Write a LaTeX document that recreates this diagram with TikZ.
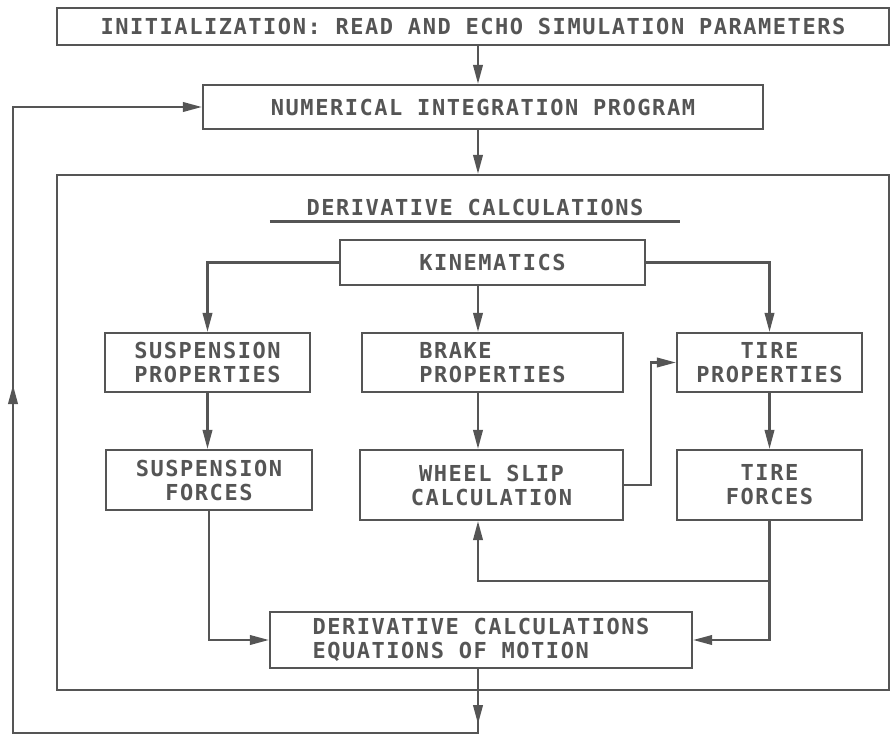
\documentclass[tikz,border=0pt]{standalone}
\usepackage{fontspec}
\newfontfamily\plotfont[LetterSpace=7]{DejaVu Sans Mono}
\usetikzlibrary{arrows.meta}
\definecolor{ink}{HTML}{555555}
\begin{document}
\begin{tikzpicture}[x=1pt,y=-1pt,
  plot/.style={text=ink, font=\plotfont\bfseries\fontsize{22}{24}\selectfont},
  box/.style={plot, draw=ink, line width=2.2pt, inner sep=0pt, align=center},
  wire/.style={draw=ink, line width=2.2pt},
  flow/.style={wire, -{Triangle[length=19pt,width=9.5pt]}}]
\useasboundingbox (0,0) rectangle (894,736);
\coordinate (mid) at (478,0);
\coordinate (back) at (13,733);
\node [box, minimum width=832, minimum height=37] (init) at (473,26.5) {INITIALIZATION: READ AND ECHO SIMULATION PARAMETERS};
\node [box, minimum width=560, minimum height=44] (nip) at (483,107) {NUMERICAL INTEGRATION PROGRAM};
\node [box, minimum width=832, minimum height=515] (calc) at (473,432.5) {};
\node [plot, minimum width=410, inner sep=0pt] (title) at (475,207) {DERIVATIVE CALCULATIONS};
\node [box, minimum width=305, minimum height=45] (kin) at (492.5,262.5) {KINEMATICS};
\node [box, align=left, minimum width=205, minimum height=59] (sp) at (207.5,362.5) {SUSPENSION\\PROPERTIES};
\node [box, minimum width=206, minimum height=60] (sf) at (209,480) {SUSPENSION\\FORCES};
\node [box, align=left, minimum width=261, minimum height=59] (bp) at (492.5,362.5) {BRAKE\\PROPERTIES};
\node [box, minimum width=263, minimum height=70] (ws) at (491.5,485) {WHEEL SLIP\\CALCULATION};
\node [box, minimum width=185, minimum height=59] (tp) at (769.5,362.5) {TIRE\\PROPERTIES};
\node [box, minimum width=185, minimum height=70] (tf) at (769.5,485) {TIRE\\FORCES};
\node [box, align=left, minimum width=422, minimum height=56] (eom) at (481,640) {DERIVATIVE CALCULATIONS\\EQUATIONS OF MOTION};
\draw [wire] ([yshift=-6pt]title.south west) -- ([yshift=-6pt]title.south east);
\draw [flow] (init.south -| mid) -- (nip.north -| mid);
\draw [flow] (nip.south -| mid) -- (calc.north -| mid);
\draw [flow] (kin.south -| mid) -- (bp.north -| mid);
\draw [flow] (kin.west) -| (sp.north);
\draw [flow] (kin.east) -| (tp.north);
\draw [flow] (sp.south) -- (sp.south |- sf.north);
\draw [flow] (bp.south -| mid) -- (ws.north -| mid);
\draw [flow] (tp.south) -- (tf.north);
\draw [flow] (ws.east) -- ++(27,0) |- (tp.west);
\draw [flow] (sf.south) |- (eom.west);
\draw [flow] (tf.south) |- (eom.east);
\draw [flow] (tf.south) -- ++(0,60) -| (ws.south -| mid);
\draw [flow] (eom.south -| mid) -- (mid |- back) -- (back) |- (nip.west);
\draw [flow] (eom.south -| mid) -- ++(0,55);
\draw [flow] (back) -- ++(0,-348);
\end{tikzpicture}
\end{document}
